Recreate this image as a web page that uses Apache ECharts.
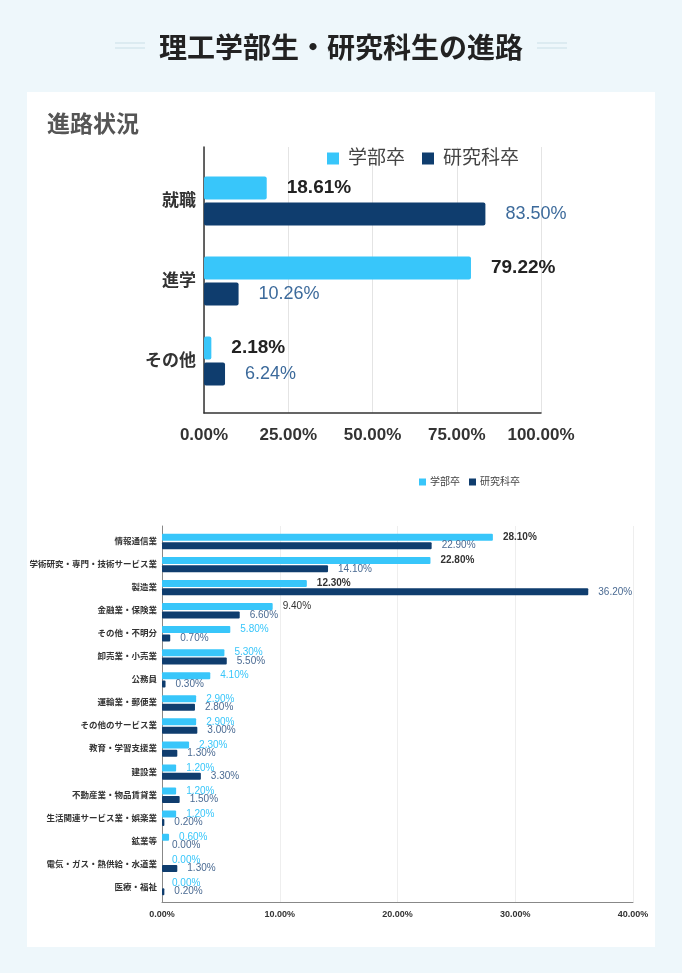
<!DOCTYPE html>
<html>
<head>
<meta charset="utf-8">
<script src="https://cdn.jsdelivr.net/npm/echarts@6/dist/echarts.min.js"></script>
<style>
  html, body { margin: 0; padding: 0; background: #eef7fb; }
  #chart { width: 682px; height: 973px; }
</style>
</head>
<body>
<div id="chart"></div>
<script>
// 進路状況
const careerCategories = ['就職', '進学', 'その他'];
const careerUndergrad = [18.61, 79.22, 2.18];
const careerGraduate = [83.50, 10.26, 6.24];
const careerTicks = [0, 25, 50, 75, 100];

// 業種別
const industryCategories = [
  '情報通信業', '学術研究・専門・技術サービス業', '製造業', '金融業・保険業',
  'その他・不明分', '卸売業・小売業', '公務員', '運輸業・郵便業',
  'その他のサービス業', '教育・学習支援業', '建設業', '不動産業・物品賃貸業',
  '生活関連サービス業・娯楽業', '鉱業等', '電気・ガス・熱供給・水道業', '医療・福祉'
];
const industryUndergrad = [28.1, 22.8, 12.3, 9.4, 5.8, 5.3, 4.1, 2.9, 2.9, 2.3, 1.2, 1.2, 1.2, 0.6, 0.0, 0.0];
const industryGraduate = [22.9, 14.1, 36.2, 6.6, 0.7, 5.5, 0.3, 2.8, 3.0, 1.3, 3.3, 1.5, 0.2, 0.0, 1.3, 0.2];
const industryTicks = [0, 10, 20, 30, 40];

const seriesNames = ['学部卒', '研究科卒'];

const LIGHT = '#38c6fa';
const DARK = '#0f3d6e';
const FONT = '"Liberation Sans", "Noto Sans CJK JP", sans-serif';
const pct = v => Number(v).toFixed(2) + '%';

const chart = echarts.init(document.getElementById('chart'));

const option = {
  backgroundColor: '#eef7fb',
  textStyle: { fontFamily: FONT },
  animation: false,
  graphic: [
    { type: 'rect', shape: { x: 27, y: 92, width: 628, height: 855 }, style: { fill: '#fff' }, z: -10 },
    { type: 'line', shape: { x1: 115, y1: 43, x2: 145, y2: 43 }, style: { stroke: '#d6e7ee', lineWidth: 1.5 } },
    { type: 'line', shape: { x1: 115, y1: 48, x2: 145, y2: 48 }, style: { stroke: '#d6e7ee', lineWidth: 1.5 } },
    { type: 'line', shape: { x1: 537, y1: 43, x2: 567, y2: 43 }, style: { stroke: '#d6e7ee', lineWidth: 1.5 } },
    { type: 'line', shape: { x1: 537, y1: 48, x2: 567, y2: 48 }, style: { stroke: '#d6e7ee', lineWidth: 1.5 } },
    {
      type: 'text', x: 341, y: 47,
      style: { text: '理工学部生・研究科生の進路', font: 'bold 28px "Noto Sans CJK JP"', fill: '#222', align: 'center', verticalAlign: 'middle' }
    },
    {
      type: 'text', x: 47, y: 123,
      style: { text: '進路状況', font: 'bold 23px "Noto Sans CJK JP"', fill: '#555', align: 'left', verticalAlign: 'middle' }
    }
  ],
  legend: [
    {
      data: seriesNames, left: 322, top: 144, icon: 'rect',
      itemWidth: 12, itemHeight: 12, itemGap: 17,
      textStyle: { fontSize: 19, color: '#444', padding: [0, 0, 0, 4] }
    },
    {
      data: seriesNames, left: 414, top: 472, icon: 'rect',
      itemWidth: 7, itemHeight: 7, itemGap: 9,
      textStyle: { fontSize: 10, color: '#444', padding: [0, 0, 0, -1] }
    }
  ],
  grid: [
    { left: 204, top: 147, width: 337, height: 266 },   // frame chart 1
    { left: 204, top: 161, width: 337, height: 240 },   // bars chart 1
    { left: 162, top: 526, width: 471, height: 376 },   // frame chart 2
    { left: 162, top: 530, width: 471, height: 369 }    // bars chart 2
  ],
  xAxis: [
    {
      gridIndex: 0, type: 'value', min: careerTicks[0], max: careerTicks[careerTicks.length - 1],
      interval: careerTicks[1] - careerTicks[0],
      axisLine: { show: true, lineStyle: { color: '#333', width: 1.5 } },
      axisTick: { show: false },
      splitLine: { show: true, lineStyle: { color: '#e4e4e4' } },
      axisLabel: { formatter: pct, fontSize: 17, fontWeight: 'bold', color: '#333', margin: 14 }
    },
    { gridIndex: 1, type: 'value', min: careerTicks[0], max: careerTicks[careerTicks.length - 1], show: false },
    {
      gridIndex: 2, type: 'value', min: industryTicks[0], max: industryTicks[industryTicks.length - 1],
      interval: industryTicks[1] - industryTicks[0],
      axisLine: { show: true, lineStyle: { color: '#888', width: 1 } },
      axisTick: { show: false },
      splitLine: { show: true, lineStyle: { color: '#eeeeee' } },
      axisLabel: { formatter: pct, fontSize: 9, fontWeight: 'bold', color: '#333', margin: 8 }
    },
    { gridIndex: 3, type: 'value', min: industryTicks[0], max: industryTicks[industryTicks.length - 1], show: false }
  ],
  yAxis: [
    {
      gridIndex: 0, type: 'value', min: 0, max: 1,
      axisLine: { show: true, lineStyle: { color: '#333', width: 1.5 } },
      axisTick: { show: false }, axisLabel: { show: false }, splitLine: { show: false }
    },
    {
      gridIndex: 1, type: 'category', inverse: true, data: careerCategories,
      axisLine: { show: false }, axisTick: { show: false },
      axisLabel: { fontSize: 17, fontWeight: 'bold', color: '#333', margin: 8 }
    },
    {
      gridIndex: 2, type: 'value', min: 0, max: 1,
      axisLine: { show: true, lineStyle: { color: '#888', width: 1 } },
      axisTick: { show: false }, axisLabel: { show: false }, splitLine: { show: false }
    },
    {
      gridIndex: 3, type: 'category', inverse: true, data: industryCategories,
      axisLine: { show: false }, axisTick: { show: false },
      axisLabel: { fontSize: 8.5, fontWeight: 'bold', color: '#333', margin: 5 }
    }
  ],
  series: [
    {
      name: seriesNames[0], type: 'bar', xAxisIndex: 1, yAxisIndex: 1,
      data: careerUndergrad, barWidth: 23, barGap: '13%',
      itemStyle: { color: LIGHT, borderRadius: 2 },
      label: { show: true, position: 'right', distance: 20, formatter: p => pct(p.value), fontSize: 19, fontWeight: 'bold', color: '#222' }
    },
    {
      name: seriesNames[1], type: 'bar', xAxisIndex: 1, yAxisIndex: 1,
      data: careerGraduate, barWidth: 23, barGap: '13%',
      itemStyle: { color: DARK, borderRadius: 2 },
      label: { show: true, position: 'right', distance: 20, formatter: p => pct(p.value), fontSize: 18, color: '#3c6a9b' }
    },
    {
      name: seriesNames[0], type: 'bar', xAxisIndex: 3, yAxisIndex: 3,
      data: industryUndergrad.map((v, i) => ({
        value: v,
        label: i < 4
          ? { color: '#333', fontWeight: i < 3 ? 'bold' : 'normal' }
          : { color: LIGHT, fontWeight: 'normal' }
      })),
      barWidth: 7, barGap: '20%',
      itemStyle: { color: LIGHT, borderRadius: 1 },
      label: { show: true, position: 'right', distance: 10, formatter: p => pct(p.value), fontSize: 10 }
    },
    {
      name: seriesNames[1], type: 'bar', xAxisIndex: 3, yAxisIndex: 3,
      data: industryGraduate, barWidth: 7, barGap: '20%',
      itemStyle: { color: DARK, borderRadius: 1 },
      label: { show: true, position: 'right', distance: 10, formatter: p => pct(p.value), fontSize: 10, color: '#4a6a92' }
    }
  ]
};

chart.setOption(option);
</script>
</body>
</html>
